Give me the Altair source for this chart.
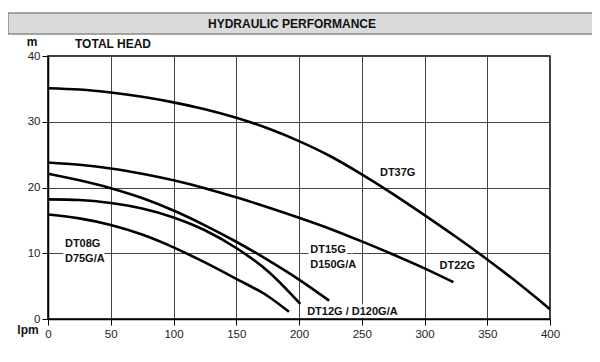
import altair as alt
import pandas as pd

# ---- data ----
dt37_x = [0, 25, 50, 75, 100, 125, 150, 175, 200, 225, 250, 275, 300, 325, 350, 375, 400]
dt37_y = [35.1, 34.9, 34.45, 33.8, 32.95, 31.9, 30.6, 29.0, 27.05, 24.75, 22.0, 19.0, 15.8, 12.5, 9.05, 5.4, 1.5]
dt22_x = [0, 25, 50, 75, 100, 125, 150, 175, 200, 225, 250, 275, 300, 323]
dt22_y = [23.8, 23.45, 22.9, 22.1, 21.1, 19.9, 18.5, 17.0, 15.4, 13.7, 11.8, 9.8, 7.7, 5.6]
dt15_x = [0, 25, 50, 75, 100, 125, 150, 175, 200, 224]
dt15_y = [22.1, 21.1, 19.9, 18.4, 16.5, 14.25, 11.75, 9.0, 6.0, 2.8]
dt12_x = [0, 25, 50, 75, 100, 125, 150, 175, 201]
dt12_y = [18.2, 18.1, 17.65, 16.8, 15.45, 13.5, 10.8, 7.3, 2.3]
dt08_x = [0, 25, 50, 75, 100, 125, 150, 175, 192]
dt08_y = [15.9, 15.3, 14.3, 12.85, 10.9, 8.6, 6.1, 3.5, 1.1]

series = [("DT37G", dt37_x, dt37_y), ("DT22G", dt22_x, dt22_y), ("DT15G", dt15_x, dt15_y),
          ("DT12G", dt12_x, dt12_y), ("DT08G", dt08_x, dt08_y)]

label_text = ["DT37G", "DT22G", "DT15G", "D150G/A", "DT12G / D120G/A", "DT08G", "D75G/A"]
label_lpm = [264.5, 312, 209, 209, 206.5, 13.5, 13.5]
label_head = [22.2, 8.1, 10.5, 8.2, 1.1, 11.4, 9.1]

x_ticks = list(range(0, 401, 25))
y_ticks = list(range(0, 41, 5))

rows = []
for name, xs, ys in series:
    for i, (a, b) in enumerate(zip(xs, ys)):
        rows.append({"model": name, "lpm": a, "head": b, "order": i})
df = pd.DataFrame(rows)
labels = pd.DataFrame({"text": label_text, "lpm": label_lpm, "head": label_head})

FONT = "Liberation Sans"
W, H = 502, 263

xscale = alt.Scale(domain=[0, 400], nice=False, zero=True)
yscale = alt.Scale(domain=[0, 40], nice=False)

xaxis = alt.Axis(values=x_ticks, title=None, grid=True, gridColor="#444", gridWidth=1,
                 tickColor="#000", tickSize=6, tickWidth=1, domainColor="#000", domainWidth=1.5,
                 labelExpr="datum.value % 50 == 0 ? datum.label : ''", labelFont=FONT,
                 labelFontSize=11.5, labelColor="#222", labelPadding=3, labelFlush=False)
yaxis = alt.Axis(values=y_ticks, title=None, grid=True, gridColor="#444", gridWidth=1,
                 tickColor={"condition": {"test": "datum.value % 10 == 0", "value": "#000"}, "value": "transparent"},
                 tickSize=6, tickWidth=1, domainColor="#000", domainWidth=1.5,
                 labelExpr="datum.value % 10 == 0 ? datum.label : ''", labelFont=FONT,
                 labelFontSize=11.5, labelColor="#222", labelPadding=2)

base = alt.Chart(df)

lines = base.mark_line(color="black", strokeWidth=2.6, interpolate="monotone", clip=True).encode(
    x=alt.X("lpm:Q", scale=xscale, axis=xaxis),
    y=alt.Y("head:Q", scale=yscale, axis=yaxis),
    detail="model:N",
    order="order:Q",
)

halo = alt.Chart(labels).mark_text(align="left", baseline="middle", font=FONT, fontSize=11,
                                   fontWeight="bold", stroke="white", strokeWidth=5,
                                   fill="white").encode(
    x=alt.X("lpm:Q", scale=xscale), y=alt.Y("head:Q", scale=yscale), text="text:N")
txt = alt.Chart(labels).mark_text(align="left", baseline="middle", font=FONT, fontSize=11,
                                  fontWeight="bold", color="#111").encode(
    x=alt.X("lpm:Q", scale=xscale), y=alt.Y("head:Q", scale=yscale), text="text:N")

one = pd.DataFrame({"a": [0]})
band = alt.Chart(one).mark_rect(color="#dadada", stroke="#8a8a8a", strokeWidth=1.5).encode(
    x=alt.value(-40), x2=alt.value(546), y=alt.value(-43), y2=alt.value(-22))
title = alt.Chart(one).mark_text(text="HYDRAULIC PERFORMANCE", font=FONT, fontSize=12,
                                 fontWeight="bold", color="#111", align="center",
                                 baseline="middle").encode(x=alt.value(244), y=alt.value(-32))
m_lbl = alt.Chart(one).mark_text(text="m", font=FONT, fontSize=12, fontWeight="bold",
                                 color="#111", align="center", baseline="middle").encode(
    x=alt.value(-16), y=alt.value(-14))
th_lbl = alt.Chart(one).mark_text(text="TOTAL HEAD", font=FONT, fontSize=12, fontWeight="bold",
                                  color="#111", align="left", baseline="middle").encode(
    x=alt.value(27), y=alt.value(-12))
lpm_lbl = alt.Chart(one).mark_text(text="lpm", font=FONT, fontSize=12, fontWeight="bold",
                                   color="#111", align="center", baseline="middle").encode(
    x=alt.value(-20), y=alt.value(274))

chart = alt.layer(band, title, m_lbl, th_lbl, lpm_lbl, lines, halo, txt).properties(
    width=W, height=H,
    autosize=alt.AutoSizeParams(type="none"),
    padding={"left": 40, "top": 48, "right": 42, "bottom": 30},
).configure_view(stroke="black", strokeWidth=1.5)

chart.save("out.html", embed_options={"renderer": "svg", "actions": False})
